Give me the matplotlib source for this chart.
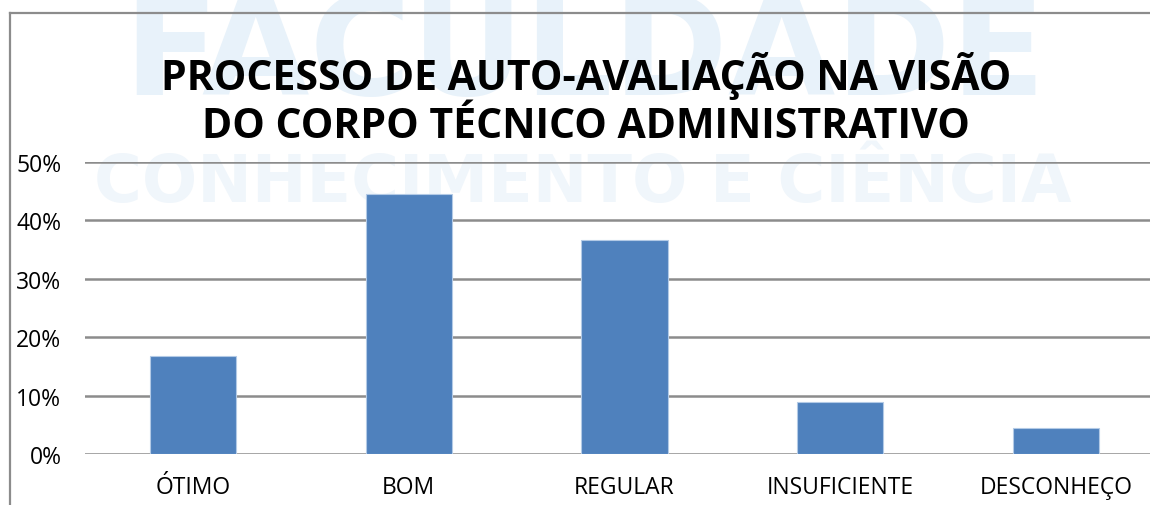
import matplotlib
matplotlib.use("Agg")
import matplotlib.pyplot as plt
from matplotlib.lines import Line2D
from matplotlib.ticker import PercentFormatter

categories = ["ÓTIMO", "BOM", "REGULAR", "INSUFICIENTE", "DESCONHEÇO"]
values = [16.7, 44.5, 36.6, 8.9, 4.4]
yticks = [0, 10, 20, 30, 40, 50]
title = "PROCESSO DE AUTO-AVALIAÇÃO NA VISÃO\nDO CORPO TÉCNICO ADMINISTRATIVO"

W, H = 1150, 506
fig = plt.figure(figsize=(W / 100, H / 100), dpi=100, facecolor="white")

# faint background lettering, kept beneath the chart
fig.text(584 / W, 1 - 95 / H, "FACULDADE", ha="center", va="baseline",
         fontsize=100, fontweight="bold", family="DejaVu Sans",
         color="#e8f2fa", zorder=-5)
fig.text(583 / W, 1 - 202 / H, "CONHECIMENTO E CIÊNCIA", ha="center",
         va="baseline", fontsize=47, fontweight="bold", family="DejaVu Sans",
         color="#f0f6fb", zorder=-5)

# chart frame (cropped on right and bottom)
fx = 9.5 / W
fy = 1 - 14 / H
fig.add_artist(Line2D([fx, 1.0], [fy, fy], color="#8c8c8c", lw=1.6,
                      transform=fig.transFigure))
fig.add_artist(Line2D([fx, fx], [0, fy], color="#8c8c8c", lw=1.6,
                      transform=fig.transFigure))

left = 85 / W
width = 1079 / W
bottom = (H - 455) / H
height = (455 - 163) / H
ax = fig.add_axes([left, bottom, width, height])
ax.set_facecolor("none")
ax.set_zorder(2)

x = range(len(categories))
ax.bar(x, values, width=0.4, color="#4f81bd", edgecolor="#b3cae6",
       linewidth=0.8, zorder=3)

ax.set_xlim(-0.5, len(categories) - 0.5)
ax.set_ylim(0, 50)
ax.set_yticks(yticks)
ax.yaxis.set_major_formatter(PercentFormatter(decimals=0))
ax.set_xticks(list(x))
ax.set_xticklabels(categories)
ax.grid(axis="y", color="#8c8c8c", linewidth=1.8, zorder=1)
ax.set_axisbelow(True)
for s in ax.spines.values():
    s.set_visible(False)
ax.tick_params(axis="both", length=0, labelsize=16.5, colors="black")
ax.tick_params(axis="y", pad=17)
ax.tick_params(axis="x", pad=15)
for lbl in ax.get_xticklabels() + ax.get_yticklabels():
    lbl.set_family("Open Sans")

fig.text(586 / W, 1 - 100 / H, title, ha="center", va="center",
         fontsize=29.5, fontweight="bold", family="Open Sans",
         linespacing=1.25, color="black", zorder=5)

fig.savefig("out.png", dpi=100, facecolor="white")
